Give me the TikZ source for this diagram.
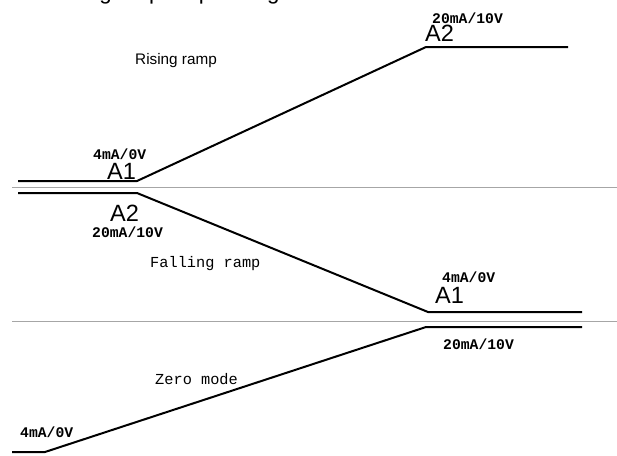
\documentclass[tikz,border=0pt]{standalone}
\usepackage{fontspec}
\setmainfont{Liberation Sans}
\setmonofont{Liberation Mono}
\usepackage{tikz}
\usetikzlibrary{positioning}

\tikzset{
  signal/.style={line width=1.7pt, line join=miter},
  divider/.style={line width=0.8pt, gray!70},
  pointlbl/.style={font=\fontsize{20}{22}\selectfont, inner sep=0pt, anchor=west},
  valuelbl/.style={font=\ttfamily\bfseries\fontsize{12.5}{14}\selectfont, inner sep=0pt, anchor=west},
  modelbl/.style={font=\ttfamily\fontsize{13}{15}\selectfont, inner sep=0pt, anchor=west},
}

\begin{document}
\begin{tikzpicture}[x=0.85pt, y=-0.85pt]
  \useasboundingbox (0,0) rectangle (617,455);
  \clip (0,0) rectangle (617,455);

  % title, cut off at the top
  \node[anchor=base west, inner sep=0pt, font=\fontsize{19}{21}\selectfont] (title) at (42,-0.5) {Analog output operating modes};

  % rising ramp
  \coordinate (r0) at (18,181);
  \coordinate (r1) at (137,181);
  \coordinate (r2) at (426,47);
  \coordinate (r3) at (568,47);
  \draw[signal] (r0) -- (r1) -- (r2) -- (r3);
  \node[valuelbl] (rHi) at (432,18) {20mA/10V};
  \node[pointlbl] (rA2) at (425,33) {A2};
  \node[anchor=west, inner sep=0pt, font=\fontsize{13}{15}\selectfont] (rName) at (135,61) {Rising ramp};
  \node[valuelbl] (rLo) at (93,154) {4mA/0V};
  \node[pointlbl] (rA1) at (107,171.5) {A1};

  \draw[divider] (12,187.5) -- (617,187.5);

  % falling ramp
  \coordinate (f0) at (18,193);
  \coordinate (f1) at (137,193);
  \coordinate (f2) at (428,312);
  \coordinate (f3) at (582,312);
  \draw[signal] (f0) -- (f1) -- (f2) -- (f3);
  \node[pointlbl] (fA2) at (110,213.5) {A2};
  \node[valuelbl] (fHi) at (92,232) {20mA/10V};
  \node[modelbl] (fName) at (150,264) {Falling ramp};
  \node[valuelbl] (fLo) at (442,277) {4mA/0V};
  \node[pointlbl] (fA1) at (435,295) {A1};

  \draw[divider] (12,321) -- (617,321);

  % zero mode
  \coordinate (z0) at (12,452);
  \coordinate (z1) at (45,452);
  \coordinate (z2) at (426,327);
  \coordinate (z3) at (582,327);
  \draw[signal] (z0) -- (z1) -- (z2) -- (z3);
  \node[valuelbl] (zHi) at (443,344) {20mA/10V};
  \node[modelbl] (zName) at (155,379) {Zero mode};
  \node[valuelbl] (zLo) at (20,432) {4mA/0V};
\end{tikzpicture}
\end{document}
